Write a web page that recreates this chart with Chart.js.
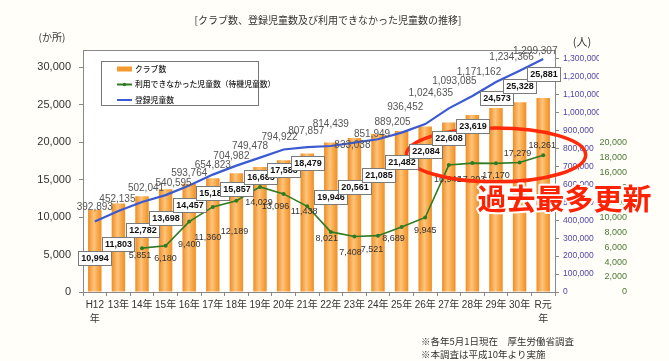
<!DOCTYPE html>
<html><head><meta charset="utf-8">
<script src="https://cdn.jsdelivr.net/npm/chart.js@4"></script>
<style>html,body{margin:0;padding:0;background:#FFFEF8;}#wrap{width:669px;height:361px;}</style>
</head><body><div id="wrap"><canvas id="c" width="669" height="361"></canvas></div>
<script>
// ---- data ----
const categories = [['H12','年'],'13年','14年','15年','16年','17年','18年','19年','20年','21年','22年','23年','24年','25年','26年','27年','28年','29年','30年',['R元','年']];
const clubs = [10994,11803,12782,13698,14457,15184,15857,16685,17583,18479,19946,20561,21085,21482,22084,22608,23619,24573,25328,25881];
const registered = [392893,452135,502041,540595,593764,654823,704982,749478,794922,807857,814439,833038,851949,889205,936452,1024635,1093085,1171162,1234366,1299307];
const waiting = [null,null,5851,6180,9400,11360,12189,14029,13096,11438,8021,7408,7521,8689,9945,16941,17203,17170,17279,18261];
const seriesNames = ['クラブ数','利用できなかった児童数（待機児童数）','登録児童数'];
const clubTicks = [0,5000,10000,15000,20000,25000,30000];
const registeredTicks = [0,100000,200000,300000,400000,500000,600000,700000,800000,900000,1000000,1100000,1200000,1300000];
const waitingTicks = [0,2000,4000,6000,8000,10000,12000,14000,16000,18000,20000];
const titleText = '[クラブ数、登録児童数及び利用できなかった児童数の推移]';
const unitLeft = '(か所)';
const unitRight = '(人)';
const notes = ['※各年5月1日現在　厚生労働省調査','※本調査は平成10年より実施'];
const highlightText = '過去最多更新';

// ---- label placement (pixel offsets, not data) ----
const clubLabelDy = [48,40,34,29,21,15,16,10,10,9,54,49,41,31,24,15,11,-10,-16,-24];
const regLabelDx = [0,-1,4,8,0,0,-5,-10,-4,-1,0,-2,-6,-9,-20,-18,-18,-17,-8,-8];
const regLabelDy = [-14,-12,-14,-12,-12,-9,-9,-11,-12,-16,-22,3,-5,-10,-17,-15,-15,-10,-13,-8];
const waitLabelDx = [0,0,-2,0,0,-5,-2,-1,-8,-3,-4,-4,-6,-8,0,-1,-1,0,-2,-1];
const waitLabelDy = [0,0,7,13,23,31,31,16,13,5,7,16,14,12,13,14,16,12,-9,-10];

const fmt = v => v.toLocaleString('en-US');
const NUM = '"Liberation Sans", Arial, "Noto Sans CJK JP", sans-serif';
const JP = '"Noto Sans CJK JP", sans-serif';
const ORANGE = '#F39A30', GREEN = '#2E7B22', BLUE = '#3A5AD2';

function barFill(c){
  const xs = c.chart.scales && c.chart.scales.x;
  if (c.type !== 'data' || !xs || xs.width === undefined) return ORANGE;
  const cx = xs.getPixelForValue(c.dataIndex);
  const w = 7;
  const g = c.chart.ctx.createLinearGradient(cx - w, 0, cx + w, 0);
  g.addColorStop(0, '#EE8A1E');
  g.addColorStop(0.45, '#FFC57E');
  g.addColorStop(0.6, '#FBB35A');
  g.addColorStop(1, '#EF8C22');
  return g;
}
const setTicks = arr => s => { s.ticks = arr.map(v => ({ value: v })); };

const decor = {
  id: 'decor',
  beforeDraw(chart){
    const {ctx, chartArea:a} = chart;
    ctx.save(); ctx.fillStyle = '#fff';
    ctx.fillRect(a.left, a.top, a.right - a.left, a.bottom - a.top);
    ctx.restore();
  },
  afterDatasetsDraw(chart){
    const {ctx, chartArea:a, scales} = chart;
    const xs = scales.x, yl = scales.y;
    ctx.save();
    ctx.strokeStyle = '#888'; ctx.lineWidth = 1;
    ctx.beginPath(); ctx.moveTo(a.left, Math.round(a.top) + 0.5); ctx.lineTo(a.right, Math.round(a.top) + 0.5); ctx.stroke();

    ctx.textAlign = 'center'; ctx.textBaseline = 'middle';
    const mReg = chart.getDatasetMeta(2);
    ctx.font = '10px ' + NUM; ctx.fillStyle = '#555';
    registered.forEach((v, i) => { const p = mReg.data[i]; ctx.fillText(fmt(v), p.x + regLabelDx[i], p.y + regLabelDy[i]); });
    const mW = chart.getDatasetMeta(1);
    ctx.font = '9px ' + NUM; ctx.fillStyle = '#333';
    waiting.forEach((v, i) => { if (v == null) return; const p = mW.data[i]; ctx.fillText(fmt(v), p.x + waitLabelDx[i], p.y + waitLabelDy[i]); });

    const cw = xs.getPixelForValue(1) - xs.getPixelForValue(0);
    const ex = xs.getPixelForValue(17), ey = yl.getPixelForValue(18300);
    const ry = yl.getPixelForValue(0) - yl.getPixelForValue(3600);
    ctx.strokeStyle = '#FF2A0A'; ctx.lineWidth = 3.5;
    ctx.beginPath(); ctx.ellipse(ex, ey, cw * 3.8, ry, 0, 0, Math.PI * 2); ctx.stroke();

    const mBar = chart.getDatasetMeta(0);
    ctx.font = 'bold 9px ' + NUM; ctx.lineWidth = 1;
    clubs.forEach((v, i) => {
      const b = mBar.data[i]; const t = fmt(v);
      const w = Math.round(ctx.measureText(t).width + 5), h = 14;
      const x0 = Math.round(b.x - w / 2) + 0.5, y0 = Math.round(b.y + clubLabelDy[i] - h / 2) + 0.5;
      ctx.fillStyle = '#fff'; ctx.fillRect(x0, y0, w, h);
      ctx.strokeStyle = '#7a7a7a'; ctx.strokeRect(x0, y0, w, h);
      ctx.fillStyle = '#111'; ctx.fillText(t, x0 + w / 2, y0 + h / 2 + 0.5);
    });

    const lx = a.left + 18, ly = a.top + 11, lw = 157, lh = 44;
    ctx.fillStyle = '#fff'; ctx.fillRect(lx + 0.5, ly + 0.5, lw, lh);
    ctx.strokeStyle = '#777'; ctx.strokeRect(lx + 0.5, ly + 0.5, lw, lh);
    ctx.textAlign = 'left'; ctx.font = '500 7.8px ' + JP; ctx.fillStyle = '#222';
    const ds = chart.data.datasets;
    [0, 1, 2].forEach((k, j) => {
      const yy = ly + 8 + j * 15.5;
      const ix = lx + 16;
      if (k === 0) {
        ctx.fillStyle = ORANGE; ctx.fillRect(ix, yy - 2.5, 15, 5);
      } else {
        ctx.strokeStyle = ds[k].borderColor; ctx.lineWidth = 2;
        ctx.beginPath(); ctx.moveTo(ix, yy); ctx.lineTo(ix + 15, yy); ctx.stroke();
        if (k === 1) { ctx.fillStyle = ds[k].borderColor; ctx.beginPath(); ctx.arc(ix + 7.5, yy, 1.8, 0, Math.PI * 2); ctx.fill(); }
      }
      ctx.fillStyle = '#222'; ctx.fillText(ds[k].label, ix + 18, yy);
    });

    ctx.fillStyle = '#333'; ctx.textAlign = 'center';
    ctx.font = '10px ' + JP; ctx.fillText(titleText, 328, 20);
    ctx.fillText(unitLeft, 52, 37);
    ctx.font = '11px ' + JP; ctx.fillText(unitRight, 582, 42);
    ctx.textAlign = 'left'; ctx.font = '9.5px ' + JP;
    ctx.fillText(notes[0], 421, 341); ctx.fillText(notes[1], 421, 354);

    ctx.font = 'bold 29px ' + JP; ctx.textAlign = 'left';
    const tx = xs.getPixelForValue(16) + 5, ty = yl.getPixelForValue(12400);
    ctx.lineJoin = 'round'; ctx.strokeStyle = '#fff'; ctx.lineWidth = 4;
    ctx.strokeText(highlightText, tx, ty);
    ctx.fillStyle = '#FF2200'; ctx.fillText(highlightText, tx, ty);
    ctx.restore();
  }
};

new Chart(document.getElementById('c'), {
  type: 'bar',
  data: {
    labels: categories,
    datasets: [
      { type: 'bar', label: seriesNames[0], data: clubs, yAxisID: 'y', backgroundColor: barFill, borderWidth: 0, categoryPercentage: 1, barPercentage: 0.57, order: 3 },
      { type: 'line', label: seriesNames[1], data: waiting, yAxisID: 'y', borderColor: GREEN, backgroundColor: GREEN, borderWidth: 1.6, pointRadius: 2, pointBackgroundColor: GREEN, pointBorderWidth: 0, tension: 0, order: 2 },
      { type: 'line', label: seriesNames[2], data: registered, yAxisID: 'y1', borderColor: BLUE, backgroundColor: BLUE, borderWidth: 2.2, pointRadius: 0, tension: 0, order: 1 }
    ]
  },
  options: {
    responsive: false, animation: false, devicePixelRatio: 1,
    layout: { padding: { top: 50, left: 0, right: 42, bottom: 0 } },
    plugins: { legend: { display: false }, tooltip: { enabled: false }, title: { display: false } },
    scales: {
      x: {
        offset: true,
        grid: { display: true, drawOnChartArea: false, tickLength: 4, color: '#888', offset: true },
        border: { color: '#888' },
        ticks: { font: { size: 10, family: NUM, lineHeight: 1.4 }, color: '#333', maxRotation: 0, autoSkip: false, padding: 2 },
        afterFit(s){ s.height = 69; }
      },
      y: {
        position: 'left', min: 0, max: 32300,
        afterBuildTicks: setTicks(clubTicks),
        ticks: { font: { size: 11, family: NUM }, color: '#333', padding: 8, callback: v => fmt(v) },
        grid: { display: true, drawOnChartArea: false, tickLength: 4, color: '#888' },
        border: { color: '#888' },
        afterFit(s){ s.width = 83; }
      },
      y1: {
        position: 'right', weight: 0, min: 0, max: 1350000,
        afterBuildTicks: setTicks(registeredTicks),
        ticks: { font: { size: 8.5, family: NUM }, color: '#5048A8', padding: 4, callback: v => fmt(v) },
        grid: { display: true, drawOnChartArea: false, tickLength: 4, color: '#888' },
        border: { color: '#888' },
        afterFit(s){ s.width = 44; }
      },
      y2: {
        position: 'right', weight: 1, min: 0, max: 32300,
        afterBuildTicks: setTicks(waitingTicks),
        ticks: { crossAlign: 'far', font: { size: 9, family: NUM }, color: '#4C7A35', callback: v => fmt(v) },
        grid: { display: false }, border: { display: false },
        afterFit(s){ s.width = 28; }
      }
    }
  },
  plugins: [decor]
});
</script></body></html>
